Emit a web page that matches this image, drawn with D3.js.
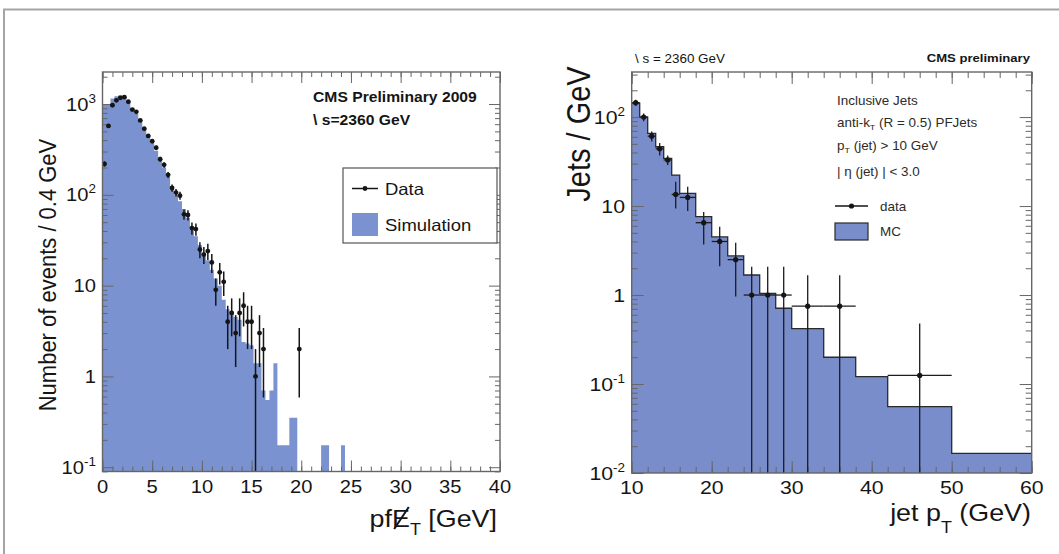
<!DOCTYPE html>
<html>
<head>
<meta charset="utf-8">
<script src="https://cdn.jsdelivr.net/npm/d3@7"></script>
<style>
  html, body { margin: 0; padding: 0; background: #fff; }
  svg { display: block; font-family: "Liberation Sans", Arial, Helvetica, sans-serif; }
</style>
</head>
<body>
<svg id="chart" width="1059" height="554"></svg>
<script>
// ---------- Missing transverse energy panel (0.4 GeV bins starting at 0) ----------
const metBinWidth = 0.4;
const metDataCounts = [
  219, 574, 970, 1100, 1170, 1190, 1060, 870, 820, 660,
  535, 445, 390, 330, 247, 214, 166, 119, 106, 98,
  61, 60, 43, 42, 25, 22, 24, 18, 9, 14,
  11, 4, 5, 3, 5, 6, 4, 4, 1, 3,
  2, 0, 0, 0, 0, 0, 0, 0, 0, 2
];
const metSimulation = [
  1000, 1000, 1150, 1220, 1250, 1200, 1050, 900, 780, 650,
  540, 450, 375, 305, 248, 200, 160, 125, 100, 85,
  70, 56, 45, 35, 28, 23, 19, 15, 12, 10,
  7, 5.5, 5, 4.5, 4.2, 2.4, 2.3, 2.2, 1.4, 1.4,
  0.7, 0.55, 0.7, 1.4, 0.175, 0.175, 0.175, 0.35, 0.35, 0,
  0, 0, 0, 0, 0, 0.175, 0.175, 0, 0, 0,
  0.175
];
const metXTicks = [0, 5, 10, 15, 20, 25, 30, 35, 40];
const metYTicks = [0.1, 1, 10, 100, 1000];
const metYLabels = [["10", "-1"], ["1", ""], ["10", ""], ["10", "2"], ["10", "3"]];

// ---------- Inclusive jet pT panel (variable bins, per GeV) ----------
const jetEdges = [10, 11, 12, 13, 14, 15, 16, 18, 20, 22, 24, 26, 28, 30, 34, 38, 42, 50, 60];
const jetMC = [143, 100, 65.6, 46.4, 34.4, 22.3, 13.9, 7.6, 4.5, 2.75, 1.68, 1.04, 0.71, 0.42, 0.2, 0.121, 0.0556, 0.0166];
const jetData = [145, 100, 61, 44, 33, 13.5, 12.5, 6.5, 4, 2.5, 1, 1, 1, 0.75, 0.75, null, 0.125, null];
const jetDataLow = [133, 90, 53, 37, 29, 9.4, 8.8, 3.7, 2.1, 0.96, 0, 0, 0, 0, 0, null, 0, null];
const jetDataHigh = [157, 110, 69, 51, 37, 18.8, 16.5, 8.6, 5.85, 3.87, 2.08, 2.08, 2.08, 1.67, 1.67, null, 0.48, null];
const jetXTicks = [10, 20, 30, 40, 50, 60];
const jetYTicks = [0.01, 0.1, 1, 10, 100];
const jetYLabels = [["10", "-2"], ["10", "-1"], ["1", ""], ["10", ""], ["10", "2"]];

// ---------- styling ----------
const SX = 1.12;               // slight horizontal widening of the lettering
const fillMet = "#7a93d0";
const fillJet = "#7a8dcb";
const ink = "#151515";
const frameCol = "#666";

const svg = d3.select("#chart");
svg.append("rect").attr("width", 1059).attr("height", 554).attr("fill", "#fff");

// page border
svg.append("path").attr("d", "M4,554 V9.5 H1059")
  .attr("fill", "none").attr("stroke", "#a4a4a4").attr("stroke-width", 2);

// text helper: parts = array of strings or {text,size,dy}
function label(parent, x, y, parts, o = {}) {
  const g = parent.append("g").attr("transform", `translate(${x},${y}) scale(${SX},1)`);
  const t = g.append("text")
    .attr("font-size", o.size || 16)
    .attr("text-anchor", o.anchor || "start")
    .attr("font-weight", o.weight || "normal")
    .attr("fill", o.fill || ink);
  parts.forEach(p => {
    if (typeof p === "string") t.append("tspan").text(p);
    else {
      const s = t.append("tspan").text(p.text);
      if (p.size) s.attr("font-size", p.size);
      if (p.dy) s.attr("dy", p.dy);
    }
  });
  return { g, t };
}

function minorLog(domain) {
  const out = [];
  for (let e = Math.floor(Math.log10(domain[0])); e <= Math.ceil(Math.log10(domain[1])); e++) {
    for (let m = 2; m <= 9; m++) {
      const v = m * Math.pow(10, e);
      if (v >= domain[0] && v <= domain[1]) out.push(v);
    }
  }
  return out;
}
function minorLin(lo, hi, step) {
  const out = [];
  for (let v = lo; v <= hi + 1e-9; v += step) out.push(+v.toFixed(6));
  return out;
}

function drawTicks(g, x, y, xMajor, xMinor, yMinor, yMajor, lenMaj, lenMin) {
  const [x0, x1] = x.range();
  const [yb, yt] = y.range();
  const defs = [
    [d3.axisBottom(x), `translate(0,${yb})`, xMajor, lenMaj],
    [d3.axisBottom(x), `translate(0,${yb})`, xMinor, lenMin],
    [d3.axisTop(x), `translate(0,${yt})`, xMajor, lenMaj],
    [d3.axisTop(x), `translate(0,${yt})`, xMinor, lenMin],
    [d3.axisLeft(y), `translate(${x0},0)`, yMajor, lenMaj],
    [d3.axisLeft(y), `translate(${x0},0)`, yMinor, lenMin],
    [d3.axisRight(y), `translate(${x1},0)`, yMajor, lenMaj],
    [d3.axisRight(y), `translate(${x1},0)`, yMinor, lenMin]
  ];
  defs.forEach(([ax, tr, vals, len]) => {
    const a = g.append("g").attr("transform", tr)
      .call(ax.tickValues(vals).tickSize(-len).tickFormat(""));
    a.select(".domain").remove();
    a.selectAll("line").attr("stroke", frameCol).attr("stroke-width", 1);
  });
}

// =====================================================================
// Left panel: pf missing ET
// =====================================================================
const gL = svg.append("g");
const xL = d3.scaleLinear().domain([0, 40]).range([102.5, 500]);
const yL = d3.scaleLog().domain([0.0897, 2254]).range([471.5, 72]);
const yLmin = yL.domain()[0];

// simulation histogram (filled steps)
const simPts = metSimulation.map((v, i) => ({ x: i * metBinWidth, v }));
simPts.push({ x: metSimulation.length * metBinWidth, v: metSimulation[metSimulation.length - 1] });
gL.append("path")
  .datum(simPts)
  .attr("fill", fillMet)
  .attr("d", d3.area()
    .curve(d3.curveStepAfter)
    .x(d => xL(d.x))
    .y0(yL.range()[0])
    .y1(d => yL(Math.max(d.v, yLmin))));

drawTicks(gL, xL, yL, metXTicks, minorLin(0, 40, 1), minorLog(yL.domain()), metYTicks, 11, 5);

// data points with sqrt(N) errors
const metPts = metDataCounts
  .map((n, i) => ({ n, c: (i + 0.5) * metBinWidth, lo: i * metBinWidth, hi: (i + 1) * metBinWidth }))
  .filter(d => d.n > 0);
const gData = gL.append("g").attr("stroke", ink).attr("stroke-width", 1.5);
metPts.forEach(d => {
  const e = Math.sqrt(d.n);
  gData.append("line")
    .attr("x1", xL(d.c)).attr("x2", xL(d.c))
    .attr("y1", yL(Math.max(d.n - e, yLmin))).attr("y2", yL(d.n + e));
  gData.append("line")
    .attr("x1", xL(d.lo)).attr("x2", xL(d.hi))
    .attr("y1", yL(d.n)).attr("y2", yL(d.n));
});
gL.append("g").selectAll("circle").data(metPts).join("circle")
  .attr("cx", d => xL(d.c)).attr("cy", d => yL(d.n)).attr("r", 2.4).attr("fill", ink);

// frame
gL.append("rect")
  .attr("x", xL.range()[0]).attr("y", yL.range()[1])
  .attr("width", xL.range()[1] - xL.range()[0]).attr("height", yL.range()[0] - yL.range()[1])
  .attr("fill", "none").attr("stroke", frameCol).attr("stroke-width", 1.4);

// tick labels
metXTicks.forEach(v => label(gL, xL(v), 493, [String(v)], { size: 18, anchor: "middle" }));
metYTicks.forEach((v, i) => {
  const [base, sup] = metYLabels[i];
  const parts = [base];
  if (sup) parts.push({ text: sup, size: 12, dy: -8 });
  label(gL, 96, yL(v) + 6.5, parts, { size: 18, anchor: "end" });
});

// axis titles
gL.append("text")
  .attr("transform", `translate(56,275) rotate(-90) scale(1,${SX})`)
  .attr("text-anchor", "middle").attr("font-size", 22).attr("fill", ink)
  .text("Number of events / 0.4 GeV");

{
  const { g, t } = label(gL, 497, 527, [
    "pf", "E", { text: "T", size: 16, dy: 8 }, { text: " [GeV]", size: 24, dy: -8 }
  ], { size: 24, anchor: "end" });
  const node = t.node();
  const s = node.getStartPositionOfChar(2);
  const e = node.getEndPositionOfChar(2);
  g.append("line")
    .attr("x1", s.x + 2).attr("y1", 2)
    .attr("x2", e.x - 1).attr("y2", -20)
    .attr("stroke", ink).attr("stroke-width", 1.8);
}

// header text
label(gL, 313, 102, ["CMS Preliminary 2009"], { size: 14, weight: "bold" });
label(gL, 313, 125, ["\\ s=2360 GeV"], { size: 14, weight: "bold" });

// legend
gL.append("rect").attr("x", 343).attr("y", 168).attr("width", 154).attr("height", 75)
  .attr("fill", "#fff").attr("stroke", "#555").attr("stroke-width", 1.2);
gL.append("line").attr("x1", 352).attr("x2", 378).attr("y1", 188.5).attr("y2", 188.5)
  .attr("stroke", ink).attr("stroke-width", 1.5);
gL.append("circle").attr("cx", 365).attr("cy", 188.5).attr("r", 2.4).attr("fill", ink);
label(gL, 385, 195, ["Data"], { size: 16.5 });
gL.append("rect").attr("x", 352).attr("y", 213).attr("width", 26).attr("height", 23).attr("fill", fillMet);
label(gL, 385, 231, ["Simulation"], { size: 16.5 });

// =====================================================================
// Right panel: inclusive jet pT
// =====================================================================
const gR = svg.append("g");
const xR = d3.scaleLinear().domain([10, 60]).range([631.7, 1031.7]);
const yR = d3.scaleLog().domain([0.01, 321]).range([473, 72]);
const yRmin = yR.domain()[0];

const mcPts = jetMC.map((v, i) => ({ x: jetEdges[i], v }));
mcPts.push({ x: jetEdges[jetEdges.length - 1], v: jetMC[jetMC.length - 1] });
gR.append("path").datum(mcPts)
  .attr("fill", fillJet)
  .attr("d", d3.area().curve(d3.curveStepAfter)
    .x(d => xR(d.x)).y0(yR.range()[0]).y1(d => yR(d.v)));
gR.append("path").datum(mcPts)
  .attr("fill", "none").attr("stroke", "#2a2a2a").attr("stroke-width", 1.3)
  .attr("d", d3.line().curve(d3.curveStepAfter).x(d => xR(d.x)).y(d => yR(d.v)));

drawTicks(gR, xR, yR, jetXTicks, minorLin(10, 60, 2), minorLog(yR.domain()), jetYTicks, 12, 6);

const jetPts = jetData.map((v, i) => ({
  v, lo: jetDataLow[i], hi: jetDataHigh[i],
  x0: jetEdges[i], x1: jetEdges[i + 1], c: (jetEdges[i] + jetEdges[i + 1]) / 2
})).filter(d => d.v != null);
const gJ = gR.append("g").attr("stroke", "#1c1c1c").attr("stroke-width", 1.3);
jetPts.forEach(d => {
  gJ.append("line").attr("x1", xR(d.c)).attr("x2", xR(d.c))
    .attr("y1", yR(Math.max(d.lo, yRmin))).attr("y2", yR(d.hi));
  gJ.append("line").attr("x1", xR(d.x0)).attr("x2", xR(d.x1))
    .attr("y1", yR(d.v)).attr("y2", yR(d.v));
});
gR.append("g").selectAll("circle").data(jetPts).join("circle")
  .attr("cx", d => xR(d.c)).attr("cy", d => yR(d.v)).attr("r", 2.6).attr("fill", ink);

gR.append("rect")
  .attr("x", xR.range()[0]).attr("y", yR.range()[1])
  .attr("width", xR.range()[1] - xR.range()[0]).attr("height", yR.range()[0] - yR.range()[1])
  .attr("fill", "none").attr("stroke", frameCol).attr("stroke-width", 1.4);

jetXTicks.forEach(v => label(gR, xR(v), 494, [String(v)], { size: 19, anchor: "middle" }));
jetYTicks.forEach((v, i) => {
  const [base, sup] = jetYLabels[i];
  const parts = [base];
  if (sup) parts.push({ text: sup, size: 12, dy: -8 });
  label(gR, 625, yR(v) + 6.5, parts, { size: 19, anchor: "end" });
});

gR.append("text")
  .attr("transform", `translate(590,134) rotate(-90) scale(1,${SX})`)
  .attr("text-anchor", "middle").attr("font-size", 29).attr("fill", ink)
  .text("Jets / GeV");

label(gR, 1031, 521, [
  "jet p", { text: "T", size: 16, dy: 12 }, { text: " (GeV)", size: 24, dy: -12 }
], { size: 24, anchor: "end" });

// header and annotations
label(gR, 635, 63, ["\\ s = 2360 GeV"], { size: 12 });
label(gR, 1030, 62, ["CMS preliminary"], { size: 11.7, weight: "bold", anchor: "end" });

const noteCol = "#2b2b2b";
label(gR, 837, 105, ["Inclusive Jets"], { size: 12, fill: noteCol });
label(gR, 837, 127, ["anti-k", { text: "T", size: 8, dy: 3 }, { text: " (R = 0.5) PFJets", size: 12, dy: -3 }], { size: 12, fill: noteCol });
label(gR, 837, 150, ["p", { text: "T", size: 8, dy: 3 }, { text: " (jet) > 10 GeV", size: 12, dy: -3 }], { size: 12, fill: noteCol });
label(gR, 837, 176, ["| η (jet) | < 3.0"], { size: 12, fill: noteCol });

gR.append("line").attr("x1", 835).attr("x2", 868).attr("y1", 206).attr("y2", 206)
  .attr("stroke", ink).attr("stroke-width", 1.3);
gR.append("circle").attr("cx", 851.5).attr("cy", 206).attr("r", 2.6).attr("fill", ink);
label(gR, 880, 210.5, ["data"], { size: 12, fill: noteCol });
gR.append("rect").attr("x", 835).attr("y", 223).attr("width", 33).attr("height", 17)
  .attr("fill", fillJet).attr("stroke", "#2a2a2a").attr("stroke-width", 1.2);
label(gR, 880, 236, ["MC"], { size: 12, fill: noteCol });
</script>
</body>
</html>
